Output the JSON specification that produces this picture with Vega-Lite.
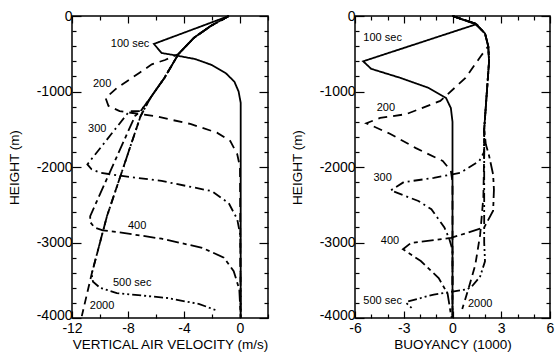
{
  "$schema": "https://vega.github.io/schema/vega-lite/v6.json",
  "background": "white",
  "padding": {"left": 6, "top": 8, "right": 3, "bottom": 0},
  "spacing": 87,
  "bounds": "flush",
  "config": {
    "font": "Liberation Sans",
    "view": {"stroke": "black", "strokeWidth": 1.5},
    "axis": {
      "domain": false, "grid": false, "labelFlush": false,
      "labelFont": "Liberation Sans", "labelFontSize": 14, "labelColor": "black",
      "titleFont": "Liberation Sans", "titleFontSize": 13.5, "titleFontWeight": "normal", "titleColor": "black",
      "tickColor": "black", "tickWidth": 1.2
    },
    "axisX": {"labelPadding": 10, "titlePadding": 2},
    "axisY": {"labelPadding": 9, "titlePadding": 15},
    "text": {"font": "Liberation Sans", "fontSize": 11, "color": "black"}
  },
  "datasets": {
    "L": [
      {"s": "100", "v": -0.8, "h": 0}, {"s": "100", "v": -6.15, "h": -370}, {"s": "100", "v": -5.6, "h": -490}, {"s": "100", "v": -4.8, "h": -515}, {"s": "100", "v": -3.2, "h": -570}, {"s": "100", "v": -2.0, "h": -650}, {"s": "100", "v": -1.0, "h": -760}, {"s": "100", "v": -0.4, "h": -870}, {"s": "100", "v": -0.1, "h": -1000}, {"s": "100", "v": 0.05, "h": -1150}, {"s": "100", "v": 0.05, "h": -4000},
      {"s": "200", "v": -0.8, "h": 0}, {"s": "200", "v": -2.1, "h": -133}, {"s": "200", "v": -3.3, "h": -290}, {"s": "200", "v": -4.4, "h": -505}, {"s": "200", "v": -5.36, "h": -583}, {"s": "200", "v": -6.3, "h": -640}, {"s": "200", "v": -7.2, "h": -755}, {"s": "200", "v": -8.8, "h": -955}, {"s": "200", "v": -9.6, "h": -1085}, {"s": "200", "v": -9.4, "h": -1190}, {"s": "200", "v": -8.6, "h": -1260}, {"s": "200", "v": -6.1, "h": -1325}, {"s": "200", "v": -3.55, "h": -1430}, {"s": "200", "v": -1.65, "h": -1545}, {"s": "200", "v": -0.7, "h": -1655}, {"s": "200", "v": -0.2, "h": -1830}, {"s": "200", "v": 0.0, "h": -2000}, {"s": "200", "v": 0.05, "h": -4000},
      {"s": "300", "v": -0.8, "h": 0}, {"s": "300", "v": -2.1, "h": -133}, {"s": "300", "v": -3.3, "h": -290}, {"s": "300", "v": -4.4, "h": -505}, {"s": "300", "v": -5.4, "h": -820}, {"s": "300", "v": -6.4, "h": -1085}, {"s": "300", "v": -7.1, "h": -1260}, {"s": "300", "v": -7.9, "h": -1260}, {"s": "300", "v": -10.9, "h": -1965}, {"s": "300", "v": -10.6, "h": -2030}, {"s": "300", "v": -10.0, "h": -2075}, {"s": "300", "v": -8.8, "h": -2110}, {"s": "300", "v": -5.6, "h": -2185}, {"s": "300", "v": -2.0, "h": -2320}, {"s": "300", "v": -0.8, "h": -2480}, {"s": "300", "v": -0.2, "h": -2690}, {"s": "300", "v": 0.02, "h": -2900}, {"s": "300", "v": 0.05, "h": -4000},
      {"s": "400", "v": -0.8, "h": 0}, {"s": "400", "v": -2.1, "h": -133}, {"s": "400", "v": -3.3, "h": -290}, {"s": "400", "v": -4.4, "h": -505}, {"s": "400", "v": -5.4, "h": -820}, {"s": "400", "v": -6.4, "h": -1085}, {"s": "400", "v": -7.1, "h": -1260}, {"s": "400", "v": -7.5, "h": -1325}, {"s": "400", "v": -10.7, "h": -2650}, {"s": "400", "v": -10.7, "h": -2730}, {"s": "400", "v": -10.4, "h": -2800}, {"s": "400", "v": -9.8, "h": -2840}, {"s": "400", "v": -8.8, "h": -2860}, {"s": "400", "v": -5.6, "h": -2950}, {"s": "400", "v": -2.7, "h": -3070}, {"s": "400", "v": -1.15, "h": -3200}, {"s": "400", "v": -0.45, "h": -3380}, {"s": "400", "v": -0.05, "h": -3620}, {"s": "400", "v": 0.05, "h": -4000},
      {"s": "500", "v": -0.8, "h": 0}, {"s": "500", "v": -2.1, "h": -133}, {"s": "500", "v": -3.3, "h": -290}, {"s": "500", "v": -4.4, "h": -505}, {"s": "500", "v": -5.4, "h": -820}, {"s": "500", "v": -6.4, "h": -1085}, {"s": "500", "v": -7.1, "h": -1325}, {"s": "500", "v": -9.5, "h": -2650}, {"s": "500", "v": -10.6, "h": -3420}, {"s": "500", "v": -10.5, "h": -3520}, {"s": "500", "v": -10.0, "h": -3600}, {"s": "500", "v": -8.8, "h": -3670}, {"s": "500", "v": -5.2, "h": -3735}, {"s": "500", "v": -2.9, "h": -3815}, {"s": "500", "v": -1.6, "h": -3905},
      {"s": "2000", "v": -0.8, "h": 0}, {"s": "2000", "v": -2.1, "h": -133}, {"s": "2000", "v": -3.3, "h": -290}, {"s": "2000", "v": -4.4, "h": -505}, {"s": "2000", "v": -5.4, "h": -820}, {"s": "2000", "v": -6.4, "h": -1085}, {"s": "2000", "v": -7.1, "h": -1325}, {"s": "2000", "v": -9.5, "h": -2650}, {"s": "2000", "v": -10.6, "h": -3420}, {"s": "2000", "v": -11.3, "h": -3975}
    ],
    "R": [
      {"s": "100", "b": 0, "h": 0}, {"s": "100", "b": 1.45, "h": -110}, {"s": "100", "b": -5.5, "h": -600}, {"s": "100", "b": -5.0, "h": -700}, {"s": "100", "b": -3.2, "h": -820}, {"s": "100", "b": -1.5, "h": -950}, {"s": "100", "b": -0.4, "h": -1085}, {"s": "100", "b": -0.1, "h": -1220}, {"s": "100", "b": 0.0, "h": -1400}, {"s": "100", "b": 0.0, "h": -4000},
      {"s": "200", "b": 0, "h": 0}, {"s": "200", "b": 1.4, "h": -100}, {"s": "200", "b": 2.0, "h": -230}, {"s": "200", "b": 2.2, "h": -400}, {"s": "200", "b": 1.75, "h": -530}, {"s": "200", "b": 0.8, "h": -820}, {"s": "200", "b": -0.75, "h": -1125}, {"s": "200", "b": -2.85, "h": -1300}, {"s": "200", "b": -4.45, "h": -1350}, {"s": "200", "b": -5.3, "h": -1420}, {"s": "200", "b": -3.85, "h": -1560}, {"s": "200", "b": -2.25, "h": -1750}, {"s": "200", "b": -0.6, "h": -1920}, {"s": "200", "b": -0.1, "h": -2050}, {"s": "200", "b": 0.0, "h": -2200}, {"s": "200", "b": 0.0, "h": -4000},
      {"s": "300", "b": 0, "h": 0}, {"s": "300", "b": 1.4, "h": -100}, {"s": "300", "b": 2.0, "h": -230}, {"s": "300", "b": 2.2, "h": -400}, {"s": "300", "b": 2.25, "h": -600}, {"s": "300", "b": 2.15, "h": -900}, {"s": "300", "b": 2.05, "h": -1200}, {"s": "300", "b": 1.95, "h": -1500}, {"s": "300", "b": 1.95, "h": -1800}, {"s": "300", "b": 1.65, "h": -1920}, {"s": "300", "b": 0.5, "h": -2075}, {"s": "300", "b": -1.15, "h": -2145}, {"s": "300", "b": -3.0, "h": -2200}, {"s": "300", "b": -3.8, "h": -2310}, {"s": "300", "b": -2.1, "h": -2450}, {"s": "300", "b": -1.3, "h": -2560}, {"s": "300", "b": -0.5, "h": -2800}, {"s": "300", "b": -0.2, "h": -2950}, {"s": "300", "b": 0.0, "h": -3100}, {"s": "300", "b": 0.0, "h": -4000},
      {"s": "400", "b": 0, "h": 0}, {"s": "400", "b": 1.4, "h": -100}, {"s": "400", "b": 2.0, "h": -230}, {"s": "400", "b": 2.2, "h": -400}, {"s": "400", "b": 2.25, "h": -600}, {"s": "400", "b": 2.15, "h": -900}, {"s": "400", "b": 2.05, "h": -1200}, {"s": "400", "b": 1.95, "h": -1500}, {"s": "400", "b": 2.05, "h": -1700}, {"s": "400", "b": 2.25, "h": -1850}, {"s": "400", "b": 2.5, "h": -2100}, {"s": "400", "b": 2.55, "h": -2300}, {"s": "400", "b": 2.5, "h": -2580}, {"s": "400", "b": 1.95, "h": -2800}, {"s": "400", "b": -0.1, "h": -2940}, {"s": "400", "b": -2.55, "h": -3005}, {"s": "400", "b": -3.05, "h": -3090}, {"s": "400", "b": -1.95, "h": -3245}, {"s": "400", "b": -0.85, "h": -3470}, {"s": "400", "b": -0.3, "h": -3680}, {"s": "400", "b": -0.1, "h": -3950}, {"s": "400", "b": -0.05, "h": -4000},
      {"s": "500", "b": 0, "h": 0}, {"s": "500", "b": 1.4, "h": -100}, {"s": "500", "b": 2.0, "h": -230}, {"s": "500", "b": 2.2, "h": -400}, {"s": "500", "b": 2.25, "h": -600}, {"s": "500", "b": 2.15, "h": -900}, {"s": "500", "b": 2.05, "h": -1200}, {"s": "500", "b": 1.95, "h": -1500}, {"s": "500", "b": 1.95, "h": -1800}, {"s": "500", "b": 1.95, "h": -2400}, {"s": "500", "b": 1.95, "h": -3000}, {"s": "500", "b": 2.0, "h": -3250}, {"s": "500", "b": 1.7, "h": -3450}, {"s": "500", "b": 1.2, "h": -3580}, {"s": "500", "b": 0.9, "h": -3620}, {"s": "500", "b": -1.15, "h": -3690}, {"s": "500", "b": -2.75, "h": -3780}, {"s": "500", "b": -2.85, "h": -3800}, {"s": "500", "b": -2.45, "h": -3880},
      {"s": "2000", "b": 0, "h": 0}, {"s": "2000", "b": 1.4, "h": -100}, {"s": "2000", "b": 2.0, "h": -230}, {"s": "2000", "b": 2.2, "h": -400}, {"s": "2000", "b": 2.25, "h": -600}, {"s": "2000", "b": 2.15, "h": -900}, {"s": "2000", "b": 2.05, "h": -1200}, {"s": "2000", "b": 1.95, "h": -1500}, {"s": "2000", "b": 1.95, "h": -1800}, {"s": "2000", "b": 1.9, "h": -2400}, {"s": "2000", "b": 1.7, "h": -2900}, {"s": "2000", "b": 1.4, "h": -3300}, {"s": "2000", "b": 1.0, "h": -3600}, {"s": "2000", "b": 0.6, "h": -3880}
    ],
    "LL": [
      {"t": "100 sec", "v": -7.85, "h": -370},
      {"t": "200", "v": -9.85, "h": -900},
      {"t": "300", "v": -10.2, "h": -1500},
      {"t": "400", "v": -7.35, "h": -2780},
      {"t": "500 sec", "v": -7.7, "h": -3540},
      {"t": "2000", "v": -9.85, "h": -3840}
    ],
    "RL": [
      {"t": "100 sec", "b": -4.3, "h": -290},
      {"t": "200", "b": -4.1, "h": -1220},
      {"t": "300", "b": -4.3, "h": -2140},
      {"t": "400", "b": -3.85, "h": -2980},
      {"t": "500 sec", "b": -4.3, "h": -3775},
      {"t": "2000", "b": 1.7, "h": -3815}
    ]
  },
  "hconcat": [
    {
      "width": 196, "height": 302,
      "resolve": {"axis": {"x": "independent", "y": "independent"}},
      "layer": [
        {
          "data": {"name": "L"},
          "mark": {"type": "line", "strokeWidth": 1.8, "color": "black"},
          "encoding": {
            "x": {"field": "v", "type": "quantitative", "scale": {"domain": [-12, 2], "nice": false, "zero": false},
              "axis": {"orient": "bottom", "title": "VERTICAL AIR VELOCITY (m/s)", "values": [-12, -10, -8, -6, -4, -2, 0, 2],
                "labelExpr": "datum.value % 4 === 0 ? '' + datum.value : ''",
                "tickSize": {"condition": {"test": "datum.value % 4 === 0", "value": -7}, "value": -4}}},
            "y": {"field": "h", "type": "quantitative", "scale": {"domain": [-4000, 0], "nice": false, "zero": false},
              "axis": {"orient": "left", "title": "HEIGHT (m)", "values": [-4000, -3800, -3600, -3400, -3200, -3000, -2800, -2600, -2400, -2200, -2000, -1800, -1600, -1400, -1200, -1000, -800, -600, -400, -200, 0],
                "labelExpr": "datum.value % 1000 === 0 ? '' + datum.value : ''",
                "labelOffset": {"condition": {"test": "datum.value === -4000", "value": -3}, "value": 0},
                "tickSize": {"condition": {"test": "datum.value % 1000 === 0", "value": -9}, "value": -4}}},
            "detail": {"field": "s"},
            "order": {"value": null},
            "strokeDash": {"field": "s", "type": "nominal", "legend": null,
              "scale": {"domain": ["100", "200", "300", "400", "500", "2000"],
                "range": [[1, 0], [9, 6], [9, 4, 2, 4], [12, 4, 4, 4], [9, 3, 2, 3, 2, 3], [8, 5]]}}
          }
        },
        {
          "data": {"name": "LL"},
          "mark": {"type": "text", "align": "center", "baseline": "middle"},
          "encoding": {
            "x": {"field": "v", "type": "quantitative",
              "axis": {"orient": "top", "title": null, "labels": false, "values": [-12, -10, -8, -6, -4, -2, 0, 2],
                "tickSize": {"condition": {"test": "datum.value % 4 === 0", "value": -7}, "value": -4}}},
            "y": {"field": "h", "type": "quantitative",
              "axis": {"orient": "right", "title": null, "labels": false, "values": [-4000, -3800, -3600, -3400, -3200, -3000, -2800, -2600, -2400, -2200, -2000, -1800, -1600, -1400, -1200, -1000, -800, -600, -400, -200, 0],
                "tickSize": {"condition": {"test": "datum.value % 1000 === 0", "value": -9}, "value": -4}}},
            "text": {"field": "t"}
          }
        }
      ]
    },
    {
      "width": 195, "height": 302,
      "resolve": {"axis": {"x": "independent", "y": "independent"}},
      "layer": [
        {
          "data": {"name": "R"},
          "mark": {"type": "line", "strokeWidth": 1.8, "color": "black"},
          "encoding": {
            "x": {"field": "b", "type": "quantitative", "scale": {"domain": [-6, 6], "nice": false, "zero": false},
              "axis": {"orient": "bottom", "title": "BUOYANCY (1000)", "values": [-6, -5, -4, -3, -2, -1, 0, 1, 2, 3, 4, 5, 6],
                "labelExpr": "datum.value % 3 === 0 ? '' + datum.value : ''",
                "tickSize": {"condition": {"test": "datum.value % 3 === 0", "value": -7}, "value": -4}}},
            "y": {"field": "h", "type": "quantitative", "scale": {"domain": [-4000, 0], "nice": false, "zero": false},
              "axis": {"orient": "left", "title": "HEIGHT (m)", "values": [-4000, -3800, -3600, -3400, -3200, -3000, -2800, -2600, -2400, -2200, -2000, -1800, -1600, -1400, -1200, -1000, -800, -600, -400, -200, 0],
                "labelExpr": "datum.value % 1000 === 0 ? '' + datum.value : ''",
                "labelOffset": {"condition": {"test": "datum.value === -4000", "value": -3}, "value": 0},
                "tickSize": {"condition": {"test": "datum.value % 1000 === 0", "value": -9}, "value": -4}}},
            "detail": {"field": "s"},
            "order": {"value": null},
            "strokeDash": {"field": "s", "type": "nominal", "legend": null,
              "scale": {"domain": ["100", "200", "300", "400", "500", "2000"],
                "range": [[1, 0], [9, 6], [9, 4, 2, 4], [5, 3], [9, 3, 2, 3, 2, 3], [12, 4, 3, 4]]}}
          }
        },
        {
          "data": {"name": "RL"},
          "mark": {"type": "text", "align": "center", "baseline": "middle"},
          "encoding": {
            "x": {"field": "b", "type": "quantitative",
              "axis": {"orient": "top", "title": null, "labels": false, "values": [-6, -5, -4, -3, -2, -1, 0, 1, 2, 3, 4, 5, 6],
                "tickSize": {"condition": {"test": "datum.value % 3 === 0", "value": -7}, "value": -4}}},
            "y": {"field": "h", "type": "quantitative",
              "axis": {"orient": "right", "title": null, "labels": false, "values": [-4000, -3800, -3600, -3400, -3200, -3000, -2800, -2600, -2400, -2200, -2000, -1800, -1600, -1400, -1200, -1000, -800, -600, -400, -200, 0],
                "tickSize": {"condition": {"test": "datum.value % 1000 === 0", "value": -9}, "value": -4}}},
            "text": {"field": "t"}
          }
        }
      ]
    }
  ]
}
